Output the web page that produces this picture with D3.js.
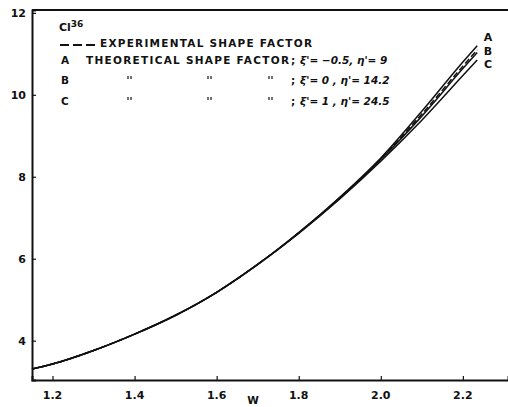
<!DOCTYPE html>
<html lang="en">
<head>
    <meta charset="UTF-8">
    <title>Cl36 shape factor</title>
    <style>
        html, body {
            margin: 0px;
            padding: 0px;
            background-color: white;
        }
        #chart text {
            font-family: 'DejaVu Sans', sans-serif;
            font-weight: bold;
            fill: #111;
        }
    </style>
</head>
<body>
    <div id="chart"></div>
    <script src="https://d3js.org/d3.v7.min.js"></script>
    <script>

        // W values the curves are read at
        var wValues = [1.15, 1.2, 1.3, 1.4, 1.5, 1.6, 1.7, 1.8, 1.9, 2.0, 2.1, 2.2, 2.235];

        // theoretical shape factor curves
        var curveA = [3.31, 3.43, 3.76, 4.16, 4.62, 5.18, 5.86, 6.64, 7.50, 8.46, 9.60, 10.80, 11.20];
        var curveB = [3.31, 3.43, 3.76, 4.16, 4.62, 5.18, 5.86, 6.63, 7.48, 8.42, 9.48, 10.64, 11.03];
        var curveC = [3.31, 3.43, 3.76, 4.16, 4.62, 5.18, 5.86, 6.62, 7.46, 8.38, 9.38, 10.47, 10.85];

        // experimental shape factor (dashed)
        var experimental = [3.31, 3.43, 3.76, 4.16, 4.62, 5.18, 5.86, 6.63, 7.49, 8.44, 9.53, 10.70, 11.10];

        var xTicks = [1.2, 1.4, 1.6, 1.8, 2.0, 2.2];
        var yTicks = [4, 6, 8, 10, 12];

        var width = 508;
        var height = 407;

        var svg = d3.select("#chart")
            .append("svg")
            .attr("width", width)
            .attr("height", height);

        var x_scale = d3.scaleLinear()
            .domain([1.15, 2.31])
            .range([32, 508]);

        var y_scale = d3.scaleLinear()
            .domain([3.04, 12.07])
            .range([380, 10]);

        // axes: ticks point inwards, labels drawn separately
        var x_axis = d3.axisTop(x_scale)
            .tickValues(xTicks)
            .tickSize(4)
            .tickFormat("");

        var y_axis = d3.axisRight(y_scale)
            .tickValues(yTicks)
            .tickSize(4)
            .tickFormat("");

        svg.append("g")
            .attr("transform", "translate(0," + y_scale(3.04) + ")")
            .call(x_axis)
            .call(function(g) {
                g.select(".domain").attr("stroke", "#111").attr("stroke-width", 2);
                g.selectAll(".tick line").attr("stroke", "#111").attr("stroke-width", 1.2);
            });

        svg.append("g")
            .attr("transform", "translate(" + x_scale(1.15) + ",0)")
            .call(y_axis)
            .call(function(g) {
                g.select(".domain").attr("stroke", "#111").attr("stroke-width", 2);
                g.selectAll(".tick line").attr("stroke", "#111").attr("stroke-width", 1.2);
            });

        // top frame line
        svg.append("line")
            .attr("x1", x_scale(1.15))
            .attr("x2", width)
            .attr("y1", y_scale(12.07))
            .attr("y2", y_scale(12.07))
            .attr("stroke", "#111")
            .attr("stroke-width", 2);

        // tick labels
        svg.selectAll(".xlabel")
            .data(xTicks)
            .enter()
            .append("text")
            .attr("class", "xlabel")
            .attr("x", function(d) { return x_scale(d); })
            .attr("y", 399)
            .attr("text-anchor", "middle")
            .attr("font-size", 11)
            .text(function(d) { return d.toFixed(1); });

        svg.selectAll(".ylabel")
            .data(yTicks)
            .enter()
            .append("text")
            .attr("class", "ylabel")
            .attr("x", 26)
            .attr("y", function(d) { return y_scale(d) + 4; })
            .attr("text-anchor", "end")
            .attr("font-size", 11)
            .text(function(d) { return d; });

        svg.append("text")
            .attr("x", 253)
            .attr("y", 404)
            .attr("text-anchor", "middle")
            .attr("font-size", 10.5)
            .text("W");

        // curves
        var line = d3.line()
            .x(function(d) { return x_scale(d[0]); })
            .y(function(d) { return y_scale(d[1]); })
            .curve(d3.curveMonotoneX);

        function pairs(vals) {
            return wValues.map(function(w, i) { return [w, vals[i]]; });
        }

        [curveA, curveB, curveC].forEach(function(c) {
            svg.append("path")
                .datum(pairs(c))
                .attr("fill", "none")
                .attr("stroke", "#111")
                .attr("stroke-width", 1.5)
                .attr("d", line);
        });

        svg.append("path")
            .datum(pairs(experimental))
            .attr("fill", "none")
            .attr("stroke", "#111")
            .attr("stroke-width", 1.5)
            .attr("stroke-dasharray", "6,3")
            .attr("d", line);

        // curve end labels
        var endLabels = [["A", 37], ["B", 51], ["C", 64]];
        svg.selectAll(".endlabel")
            .data(endLabels)
            .enter()
            .append("text")
            .attr("class", "endlabel")
            .attr("x", 488)
            .attr("y", function(d) { return d[1] + 4; })
            .attr("text-anchor", "middle")
            .attr("font-size", 11)
            .text(function(d) { return d[0]; });

        // legend block
        var legend = svg.append("g");

        var cl = legend.append("text")
            .attr("x", 59)
            .attr("y", 31)
            .attr("font-size", 11);
        cl.append("tspan").text("Cl");
        cl.append("tspan").attr("dy", -4).attr("font-size", 9).text("36");

        legend.append("line")
            .attr("x1", 60).attr("x2", 97)
            .attr("y1", 45).attr("y2", 45)
            .attr("stroke", "#111")
            .attr("stroke-width", 1.8)
            .attr("stroke-dasharray", "9,4");

        legend.append("text")
            .attr("x", 100).attr("y", 47)
            .attr("font-size", 10.5)
            .attr("textLength", 212)
            .attr("lengthAdjust", "spacing")
            .text("EXPERIMENTAL SHAPE FACTOR");

        var rows = [
            ["A", 64, "\u03be'= \u22120.5, \u03b7'= 9"],
            ["B", 84, "\u03be'= 0 , \u03b7'= 14.2"],
            ["C", 105, "\u03be'= 1 , \u03b7'= 24.5"]
        ];

        rows.forEach(function(r, i) {
            legend.append("text")
                .attr("x", 61).attr("y", r[1])
                .attr("font-size", 10.5)
                .text(r[0]);

            if (i == 0) {
                legend.append("text")
                    .attr("x", 86).attr("y", r[1])
                    .attr("font-size", 10.5)
                    .attr("textLength", 203)
                    .attr("lengthAdjust", "spacing")
                    .text("THEORETICAL SHAPE FACTOR");
            } else {
                // ditto marks, drawn as two short strokes
                [128, 208, 269].forEach(function(px) {
                    [0, 3].forEach(function(off) {
                        legend.append("line")
                            .attr("x1", px + off).attr("x2", px + off)
                            .attr("y1", r[1] - 8).attr("y2", r[1] - 5)
                            .attr("stroke", "#111")
                            .attr("stroke-width", 1.2);
                    });
                });
            }

            legend.append("text")
                .attr("x", 291).attr("y", r[1])
                .attr("font-size", 10.5)
                .text(";");

            legend.append("text")
                .attr("x", 300).attr("y", r[1])
                .attr("font-size", 10.5)
                .style("font-style", "italic")
                .text(r[2]);
        });

    </script>
</body>
</html>
